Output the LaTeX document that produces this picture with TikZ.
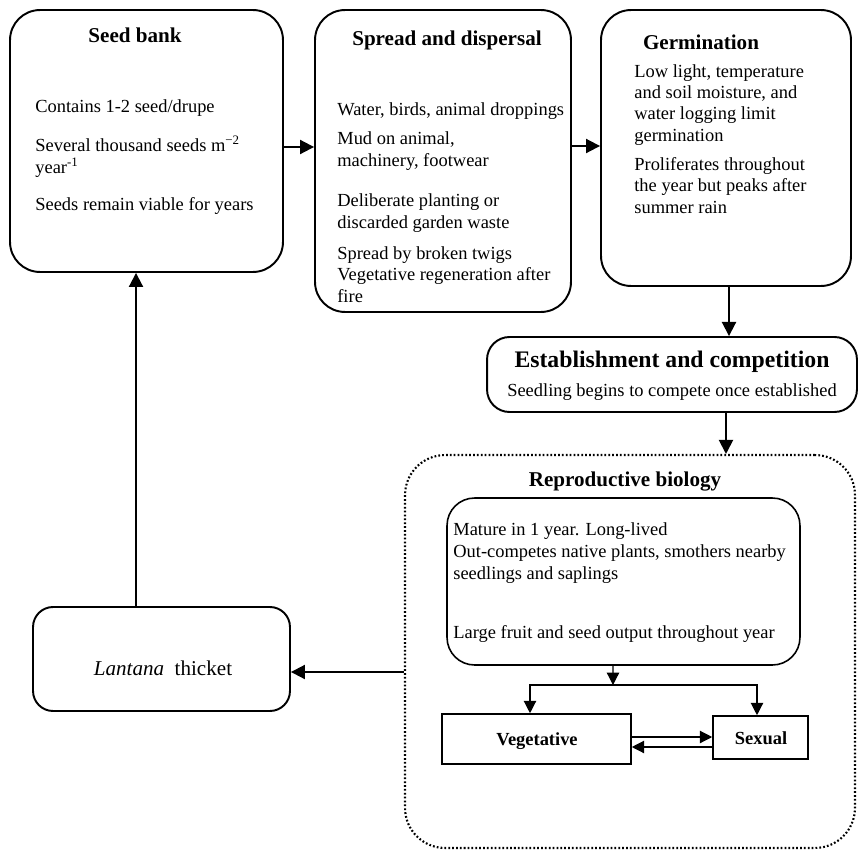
\documentclass[tikz,border=0pt]{standalone}
\usepackage{fontspec}
\setmainfont{Liberation Serif}
\usetikzlibrary{arrows.meta}

\begin{document}
\begin{tikzpicture}[x=0.02cm, y=-0.02cm,
        Stage/.style={draw, line width=1.1pt, rounded corners=#1, inner sep=0pt},
        Stage/.default=0.6cm,
        Part/.style={draw, line width=0.9pt, inner sep=0pt},
        Title/.style={font=\fontsize{12}{14}\selectfont\bfseries, inner sep=0pt},
        Note/.style={font=\fontsize{10.5}{12}\selectfont, align=left, anchor=base west, inner sep=0pt},
        Flow/.style={-{Triangle[length=8pt, width=8pt]}, line width=1.1pt},
        Link/.style={-{Triangle[length=7pt, width=7pt]}, line width=0.7pt}]
    \useasboundingbox (0,0) rectangle (859,852);

    \node[Stage, minimum width=5.46cm, minimum height=5.24cm] (bank) at (146.5,141) {};
    \node[Stage, minimum width=5.12cm, minimum height=6.04cm] (spread) at (443,161) {};
    \node[Stage, minimum width=5.0cm, minimum height=5.52cm] (germ) at (726,148) {};
    \node[Stage=0.45cm, minimum width=7.4cm, minimum height=1.5cm] (estab) at (672,374.5) {};
    \node[Stage=0.8cm, line width=1.2pt, dash pattern=on 1pt off 1.2pt, minimum width=9cm, minimum height=7.86cm] (repro) at (630,651.5) {};
    \node[Stage=0.55cm, line width=0.9pt, minimum width=7.06cm, minimum height=3.34cm] (inner) at (623.5,581.5) {};
    \node[Part, minimum width=3.78cm, minimum height=1cm] (veg) at (536.5,739) {};
    \node[Part, minimum width=1.9cm, minimum height=0.86cm] (sex) at (760.5,737.5) {};
    \node[Stage=0.4cm, minimum width=5.14cm, minimum height=2.08cm] (lantana) at (161.5,659) {};

    \node[Title] (banktitle) at (135,35) {Seed bank};
    \node[Note] (bank1) at (35,112) {Contains 1-2 seed/drupe};
    \node[Note] (bank2) at (35,173) {Several thousand seeds m\textsuperscript{−2}\\year\textsuperscript{-1}};
    \node[Note] (bank3) at (35,210) {Seeds remain viable for years};

    \node[Title] (spreadtitle) at (447,40) {Spread and dispersal};
    \node[Note] (spread1) at (337,115) {Water, birds, animal droppings};
    \node[Note] (spread2) at (337,166) {Mud on animal,\\machinery, footwear};
    \node[Note] (spread3) at (337,228) {Deliberate planting or\\discarded garden waste};
    \node[Note] (spread4) at (337,259) {Spread by broken twigs};
    \node[Note] (spread5) at (337,302) {Vegetative regeneration after\\fire};

    \node[Title] (germtitle) at (701,42) {Germination};
    \node[Note] (germ1) at (634,141) {Low light, temperature\\and soil moisture, and\\water logging limit\\germination};
    \node[Note] (germ2) at (634,213) {Proliferates throughout\\the year but peaks after\\summer rain};

    \node[Title, font=\fontsize{13.5}{15}\selectfont\bfseries] (estabtitle) at (672,362) {Establishment and competition};
    \node[Note, anchor=center] (estab1) at (672,392) {Seedling begins to compete once established};

    \node[Title] (reprotitle) at (625,482) {Reproductive biology};
    \node[Note, font=\fontsize{10.5}{12.5}\selectfont] (inner1) at (453,579) {Mature in 1 year. Long-lived\\Out-competes native plants, smothers nearby\\seedlings and saplings};
    \node[Note] (inner2) at (453,638) {Large fruit and seed output throughout year};
    \node[Title, font=\fontsize{10.5}{12}\selectfont\bfseries] (vegtxt) at (537,741) {Vegetative};
    \node[Title, font=\fontsize{10.5}{12}\selectfont\bfseries] (sextxt) at (761,738) {Sexual};

    \node[Title, font=\fontsize{12}{14}\selectfont] (lantanatxt) at (163,668) {\textit{Lantana}\ \ thicket};

    \coordinate (split) at (613,685);

    \draw[Flow] ([yshift=-0.12cm]bank.east) -- ([yshift=-0.12cm]bank.east -| spread.west);
    \draw[Flow] ([yshift=0.3cm]spread.east) -- ([yshift=0.3cm]spread.east -| germ.west);
    \draw[Flow] ([xshift=0.06cm]germ.south) -- ([xshift=0.06cm]germ.south |- estab.north);
    \draw[Flow] ([xshift=1.08cm]estab.south) -- ([xshift=1.08cm]estab.south |- repro.north);
    \draw[Flow] ([yshift=-0.41cm]repro.west) -- ([yshift=-0.41cm]repro.west -| lantana.east);
    \draw[Flow] ([xshift=-0.51cm]lantana.north) -- ([xshift=-0.51cm]lantana.north |- bank.south);

    \draw[Link] ([xshift=-0.21cm]inner.south) -- (split);
    \draw[Link] (split) -| ([xshift=-0.13cm]veg.north);
    \draw[Link] (split) -| ([xshift=-0.07cm]sex.north);
    \draw[Link] ([yshift=0.04cm]veg.east) -- ([yshift=0.04cm]veg.east -| sex.west);
    \draw[Link] ([yshift=-0.16cm]veg.east -| sex.west) -- ([yshift=-0.16cm]veg.east);
\end{tikzpicture}
\end{document}
